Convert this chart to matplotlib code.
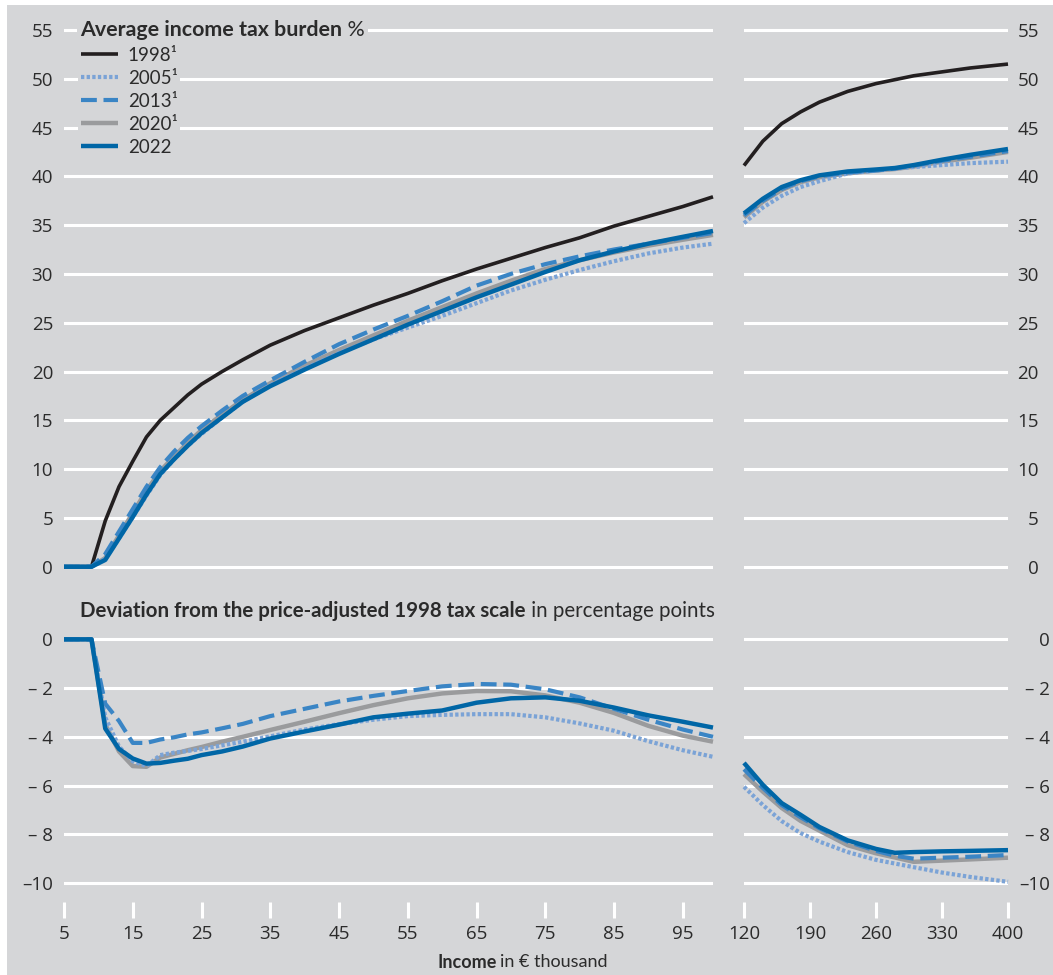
import matplotlib
matplotlib.use("Agg")
import matplotlib.pyplot as plt
from matplotlib.patches import Rectangle
from matplotlib.lines import Line2D

# ---- data ----
years = ["1998¹", "2005¹", "2013¹", "2020¹", "2022"]

inc_low = [5, 9, 11, 13, 15, 17, 19, 21, 23, 25, 28, 31, 35, 40, 45, 50, 55,
           60, 65, 70, 75, 80, 85, 90, 95, 99.4]
inc_high = [120, 140, 160, 180, 200, 230, 260, 280, 300, 330, 360, 400]

# average income tax burden, %
avg_1998_low = [0, 0, 4.7, 8.2, 10.8, 13.3, 15.0, 16.3, 17.6, 18.7, 20.0, 21.2, 22.7,
                24.2, 25.5, 26.8, 28.0, 29.3, 30.5, 31.6, 32.7, 33.7, 34.9, 35.9, 36.9, 37.9]
avg_2005_low = [0, 0, 0.8, 2.9, 5.1, 7.3, 9.4, 11.0, 12.4, 13.6, 15.3, 16.9, 18.6,
                20.3, 21.9, 23.3, 24.5, 25.7, 27.0, 28.3, 29.4, 30.4, 31.3, 32.1, 32.7, 33.1]
avg_2013_low = [0, 0, 1.3, 3.6, 5.9, 8.2, 10.2, 11.8, 13.2, 14.4, 16.0, 17.5, 19.1,
                21.0, 22.8, 24.3, 25.7, 27.2, 28.8, 30.0, 31.0, 31.8, 32.5, 33.1, 33.7, 34.2]
avg_2020_low = [0, 0, 0.9, 3.2, 5.5, 7.8, 9.8, 11.3, 12.7, 14.0, 15.6, 17.1, 18.8,
                20.6, 22.2, 23.7, 25.2, 26.6, 28.0, 29.3, 30.5, 31.4, 32.2, 32.9, 33.5, 34.0]
avg_2022_low = [0, 0, 0.7, 2.9, 5.1, 7.4, 9.5, 11.0, 12.4, 13.7, 15.3, 16.9, 18.5,
                20.2, 21.8, 23.3, 24.8, 26.2, 27.6, 28.9, 30.2, 31.4, 32.3, 33.1, 33.8, 34.4]

avg_1998_high = [41.1, 43.6, 45.4, 46.6, 47.6, 48.7, 49.5, 49.9, 50.3, 50.7, 51.1, 51.5]
avg_2005_high = [35.2, 36.8, 38.0, 38.9, 39.5, 40.3, 40.6, 40.8, 40.95, 41.15, 41.35, 41.5]
avg_2013_high = [36.0, 37.5, 38.7, 39.5, 40.0, 40.4, 40.6, 40.8, 41.1, 41.6, 42.0, 42.6]
avg_2020_high = [35.8, 37.4, 38.6, 39.4, 39.9, 40.3, 40.6, 40.75, 41.0, 41.5, 41.9, 42.5]
avg_2022_high = [36.2, 37.7, 38.9, 39.6, 40.1, 40.5, 40.7, 40.85, 41.15, 41.7, 42.2, 42.8]

# deviation from price-adjusted 1998 tax scale, percentage points
dev_2005_low = [0, 0, -3.2, -4.4, -5.0, -5.2, -4.75, -4.65, -4.58, -4.5, -4.35, -4.2, -3.98,
                -3.7, -3.48, -3.3, -3.15, -3.1, -3.07, -3.07, -3.2, -3.45, -3.75, -4.18, -4.55, -4.82]
dev_2013_low = [0, 0, -2.64, -3.35, -4.25, -4.25, -4.11, -4.02, -3.9, -3.82, -3.65, -3.47, -3.15,
                -2.85, -2.55, -2.32, -2.12, -1.93, -1.83, -1.86, -2.05, -2.38, -2.85, -3.3, -3.7, -4.0]
dev_2020_low = [0, 0, -3.5, -4.6, -5.2, -5.23, -4.85, -4.7, -4.55, -4.42, -4.2, -4.0, -3.72,
                -3.38, -3.03, -2.7, -2.42, -2.22, -2.12, -2.13, -2.3, -2.6, -3.02, -3.55, -3.95, -4.2]
dev_2022_low = [0, 0, -3.66, -4.5, -4.89, -5.1, -5.07, -4.98, -4.9, -4.75, -4.6, -4.4, -4.07,
                -3.78, -3.5, -3.2, -3.05, -2.92, -2.6, -2.42, -2.38, -2.52, -2.8, -3.12, -3.38, -3.62]

dev_2005_high = [-6.05, -6.8, -7.46, -7.95, -8.3, -8.73, -9.05, -9.2, -9.35, -9.57, -9.75, -9.95]
dev_2013_high = [-5.33, -6.1, -6.8, -7.3, -7.75, -8.3, -8.68, -8.88, -9.0, -8.96, -8.92, -8.85]
dev_2020_high = [-5.53, -6.25, -6.92, -7.45, -7.85, -8.45, -8.78, -8.95, -9.13, -9.08, -9.03, -8.96]
dev_2022_high = [-5.07, -5.97, -6.72, -7.2, -7.7, -8.25, -8.6, -8.76, -8.73, -8.7, -8.68, -8.65]

top_ticks = [0, 5, 10, 15, 20, 25, 30, 35, 40, 45, 50, 55]
bot_ticks = [-10, -8, -6, -4, -2, 0]
bot_ticklabels = ["\u201310", "\u2013 8", "\u2013 6", "\u2013 4", "\u2013 2", "0"]
x_low_ticks = [5, 15, 25, 35, 45, 55, 65, 75, 85, 95]
x_high_ticks = [120, 190, 260, 330, 400]

# ---- style ----
BG = "#d5d6d8"
TXT = "#2b2b2b"
styles = {
    "1998¹": dict(color="#231f20", lw=2.6, zorder=3),
    "2005¹": dict(color="#7ba3d6", lw=3.0, ls=(0, (0.8, 0.55)), zorder=4),
    "2013¹": dict(color="#3a85c5", lw=3.0, ls=(0, (3.8, 1.6)), zorder=5),
    "2020¹": dict(color="#9a9b9d", lw=3.2, zorder=3.5),
    "2022": dict(color="#0066a6", lw=3.2, zorder=6),
}
TICKFONT = ["Liberation Sans Narrow", "Open Sans", "DejaVu Sans"]
TITLEFONT = ["Lato", "DejaVu Sans"]

W, H = 1053, 975
fig = plt.figure(figsize=(W / 100, H / 100), dpi=100)
fig.patch.set_facecolor("white")
fig.add_artist(Rectangle((7 / W, 0), 1 - 7 / W, 1 - 5 / H, transform=fig.transFigure,
                         facecolor=BG, edgecolor="none", zorder=-10))


def px_axes(x0, x1, ytop, ybot):
    return fig.add_axes([x0 / W, 1 - ybot / H, (x1 - x0) / W, (ybot - ytop) / H])


ax_tl = px_axes(64, 713, 26.0, 572.6)
ax_tr = px_axes(744, 1008, 26.0, 572.6)
ax_bl = px_axes(64, 713, 629.6, 901.8)
ax_br = px_axes(744, 1008, 629.6, 901.8)

for ax in (ax_tl, ax_tr, ax_bl, ax_br):
    ax.patch.set_visible(False)
    for s in ax.spines.values():
        s.set_visible(False)
    ax.grid(axis="y", color="white", lw=2.2)
    ax.grid(axis="x", visible=False)
    ax.set_axisbelow(True)
    ax.tick_params(axis="y", length=0, labelsize=13.5, labelcolor=TXT)

for ax in (ax_tl, ax_tr):
    ax.set_ylim(-0.6, 55.4)
    ax.set_yticks(top_ticks)
    ax.tick_params(axis="x", bottom=False, labelbottom=False)
for ax in (ax_bl, ax_br):
    ax.set_ylim(-10.77, 0.4)
    ax.set_yticks(bot_ticks)
    ax.set_yticklabels(bot_ticklabels)
    ax.tick_params(axis="x", direction="out", length=11.2, width=2.2, color="white",
                   labelsize=13.5, labelcolor=TXT, pad=5.5)

ax_tl.set_xlim(5, 99.4)
ax_bl.set_xlim(5, 99.4)
ax_tr.set_xlim(120, 400)
ax_br.set_xlim(120, 400)
ax_bl.set_xticks(x_low_ticks)
ax_br.set_xticks(x_high_ticks)
ax_tl.tick_params(axis="y", pad=7.9)
ax_bl.tick_params(axis="y", pad=7.9)
ax_tr.yaxis.tick_right()
ax_br.yaxis.tick_right()
ax_tr.tick_params(axis="y", pad=22.3)
ax_br.tick_params(axis="y", pad=30.2)
for lab in ax_tr.get_yticklabels() + ax_br.get_yticklabels():
    lab.set_horizontalalignment("right")

for ax in (ax_tl, ax_tr, ax_bl, ax_br):
    for lab in ax.get_xticklabels() + ax.get_yticklabels():
        lab.set_fontfamily(TICKFONT)

# top panel
ax_tl.plot(inc_low, avg_1998_low, **styles["1998¹"])
ax_tl.plot(inc_low, avg_2005_low, **styles["2005¹"])
ax_tl.plot(inc_low, avg_2013_low, **styles["2013¹"])
ax_tl.plot(inc_low, avg_2020_low, **styles["2020¹"])
ax_tl.plot(inc_low, avg_2022_low, **styles["2022"])
ax_tr.plot(inc_high, avg_1998_high, **styles["1998¹"])
ax_tr.plot(inc_high, avg_2005_high, **styles["2005¹"])
ax_tr.plot(inc_high, avg_2013_high, **styles["2013¹"])
ax_tr.plot(inc_high, avg_2020_high, **styles["2020¹"])
ax_tr.plot(inc_high, avg_2022_high, **styles["2022"])

# bottom panel
ax_bl.plot(inc_low, dev_2005_low, **styles["2005¹"])
ax_bl.plot(inc_low, dev_2013_low, **styles["2013¹"])
ax_bl.plot(inc_low, dev_2020_low, **styles["2020¹"])
ax_bl.plot(inc_low, dev_2022_low, **styles["2022"])
ax_br.plot(inc_high, dev_2005_high, **styles["2005¹"])
ax_br.plot(inc_high, dev_2013_high, **styles["2013¹"])
ax_br.plot(inc_high, dev_2020_high, **styles["2020¹"])
ax_br.plot(inc_high, dev_2022_high, **styles["2022"])

for ax in (ax_tl, ax_tr, ax_bl, ax_br):
    for ln in ax.get_lines():
        ln.set_solid_capstyle("butt")
        ln.set_dash_capstyle("butt")
        ln.set_clip_on(False)

# legend
handles = [Line2D([], [], solid_capstyle="butt", dash_capstyle="butt",
                  **{k: v for k, v in styles[y].items() if k != "zorder"})
           for y in years]
leg = ax_tl.legend(handles, years, loc="upper left", bbox_to_anchor=(78 / W, 1 - 44 / H),
                   bbox_transform=fig.transFigure, frameon=True, facecolor=BG, edgecolor="none",
                   framealpha=1, fancybox=False, borderpad=0.15, borderaxespad=0,
                   handlelength=2.0, handletextpad=0.5, labelspacing=0.32,
                   prop=dict(family=TITLEFONT, size=13.5))
for t in leg.get_texts():
    t.set_color(TXT)

# titles with mixed weights
fig.canvas.draw()
renderer = fig.canvas.get_renderer()


def two_part(x, y, bold, regular, size, family, box=True):
    kw = dict(va="center", ha="left", fontsize=size, family=family, color=TXT)
    if box:
        kw["bbox"] = dict(facecolor=BG, edgecolor="none", pad=2)
    t1 = fig.text(x / W, 1 - y / H, bold, fontweight="bold", zorder=6, **kw)
    bb = t1.get_window_extent(renderer)
    fig.text(bb.x1 / W, 1 - y / H, regular, zorder=5, **kw)


two_part(80, 30, "Average income tax burden", " %", 15.4, TITLEFONT)
two_part(80, 611, "Deviation from the price-adjusted 1998 tax scale", " in percentage points",
         14.8, TITLEFONT, box=False)

fig.text(497 / W, 1 - 962 / H, "Income", ha="right", va="center", fontweight="bold",
         fontsize=13, family=TITLEFONT, color=TXT)
fig.text(500 / W, 1 - 962 / H, "in € thousand", ha="left", va="center",
         fontsize=13, family=TITLEFONT, color=TXT)

fig.savefig("out.png", dpi=100, facecolor=fig.get_facecolor())
